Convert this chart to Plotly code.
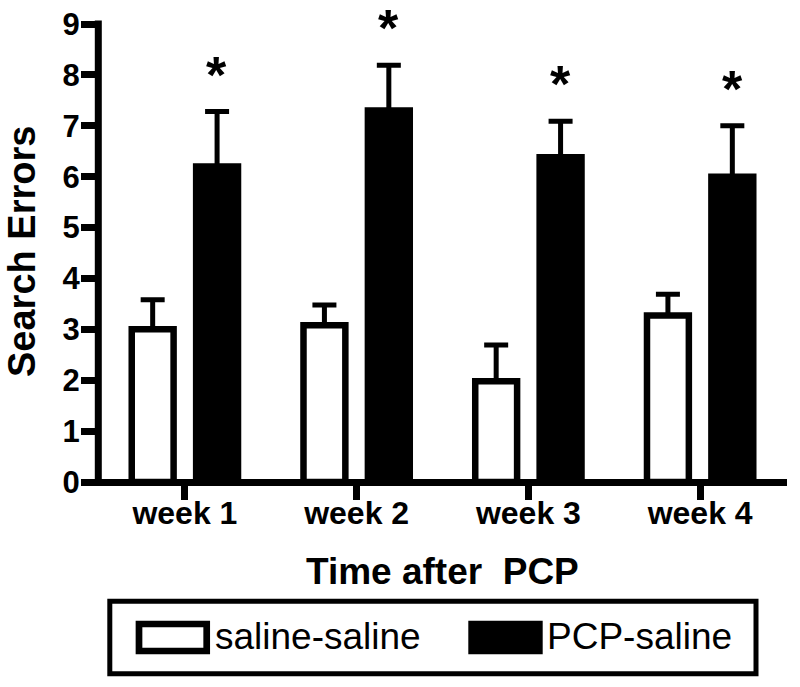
import plotly.graph_objects as go

# ---- data ----
weeks = ["week 1", "week 2", "week 3", "week 4"]
series_names = ["saline-saline", "PCP-saline"]
saline_mean = [3.0, 3.08, 1.98, 3.27]
saline_sem = [0.58, 0.40, 0.71, 0.42]
pcp_mean = [6.2, 7.3, 6.38, 6.0]
pcp_sem = [1.08, 0.89, 0.71, 1.0]
sig_marks = ["*", "*", "*", "*"]
y_ticks = [0, 1, 2, 3, 4, 5, 6, 7, 8, 9]
x_title = "Time after\u00a0 PCP"
y_title = "Search Errors"

# ---- layout geometry ----
W, H = 800, 687
ML, MR, MT, MB = 99, 14, 24, 205
PW, PH = W - ML - MR, H - MT - MB


def px(x):
    return (x - ML) / PW


def py(y):
    return (H - MB - y) / PH


FONT = "Liberation Sans, Arial, Helvetica, sans-serif"
LW = 6.5

fig = go.Figure()
fig.add_trace(go.Bar(
    x=weeks, y=saline_mean, name=series_names[0],
    marker=dict(color="white", line=dict(color="black", width=LW)),
    error_y=dict(type="data", array=saline_sem, arrayminus=[0] * len(weeks),
                 symmetric=False, color="black", thickness=5, width=12),
))
fig.add_trace(go.Bar(
    x=weeks, y=pcp_mean, name=series_names[1],
    marker=dict(color="black", line=dict(color="black", width=LW)),
    error_y=dict(type="data", array=pcp_sem, arrayminus=[0] * len(weeks),
                 symmetric=False, color="black", thickness=5, width=12),
))

annotations = []
for w, m, s, t in zip(weeks, pcp_mean, pcp_sem, sig_marks):
    annotations.append(dict(
        x=w, y=m + s, xref="x", yref="y", text=t, showarrow=False,
        xshift=32, yshift=37, yanchor="middle",
        font=dict(family=FONT, size=52, color="black", weight="bold"),
    ))

# axis titles
annotations.append(dict(
    x=0.5, y=py(571), xref="paper", yref="paper", text=x_title, showarrow=False,
    xanchor="center", yanchor="middle",
    font=dict(family=FONT, size=37, color="black", weight="bold"),
))
annotations.append(dict(
    x=px(22), y=py(252), xref="paper", yref="paper", text=y_title, showarrow=False,
    textangle=-90, xanchor="center", yanchor="middle",
    font=dict(family=FONT, size=38, color="black", weight="bold"),
))

shapes = [
    # axis lines
    dict(type="line", xref="paper", yref="paper",
         x0=px(98.3), x1=px(98.3), y0=py(485.5), y1=py(20.5),
         line=dict(color="black", width=7), layer="above"),
    dict(type="line", xref="paper", yref="paper",
         x0=px(95), x1=px(787), y0=py(482.5), y1=py(482.5),
         line=dict(color="black", width=7), layer="above"),
    # custom legend
    dict(type="rect", xref="paper", yref="paper",
         x0=px(109.8), x1=px(756), y0=py(673.7), y1=py(601.3),
         line=dict(color="black", width=5), fillcolor="rgba(0,0,0,0)"),
    dict(type="rect", xref="paper", yref="paper",
         x0=px(139), x1=px(206.7), y0=py(651), y1=py(624),
         line=dict(color="black", width=6.7), fillcolor="white"),
    dict(type="rect", xref="paper", yref="paper",
         x0=px(468.3), x1=px(542.7), y0=py(654.3), y1=py(620.7),
         line=dict(color="black", width=0), fillcolor="black"),
]
annotations.append(dict(
    x=px(213), y=py(636), xref="paper", yref="paper", text=series_names[0],
    showarrow=False, xanchor="left", yanchor="middle",
    font=dict(family=FONT, size=37, color="black"),
))
annotations.append(dict(
    x=px(545), y=py(636), xref="paper", yref="paper", text=series_names[1],
    showarrow=False, xanchor="left", yanchor="middle",
    font=dict(family=FONT, size=37, color="black"),
))

fig.update_layout(
    width=W, height=H,
    margin=dict(l=ML, r=MR, t=MT, b=MB, pad=0, autoexpand=False),
    paper_bgcolor="white", plot_bgcolor="white",
    barmode="group", bargap=0.25, bargroupgap=0.35,
    showlegend=False,
    annotations=annotations,
    shapes=shapes,
    font=dict(family=FONT, color="black"),
)
fig.update_xaxes(
    type="category", range=[-0.5, 3.5], automargin=False,
    showline=False,
    ticks="outside", ticklen=17, tickwidth=7, tickcolor="black",
    ticklabelstandoff=-14,
    tickfont=dict(family=FONT, size=32, color="black", weight="bold"),
    showgrid=False, zeroline=False,
)
fig.update_yaxes(
    range=[0, 9], tickvals=y_ticks, automargin=False,
    showline=False,
    ticks="outside", ticklen=17, tickwidth=7, tickcolor="black",
    ticklabelstandoff=-5,
    tickfont=dict(family=FONT, size=31, color="black", weight="bold"),
    showgrid=False, zeroline=False,
)

fig.write_html(
    "out.html",
    config={"displayModeBar": False},
    post_script="document.body.style.margin='0';document.body.style.overflow='hidden';",
)
